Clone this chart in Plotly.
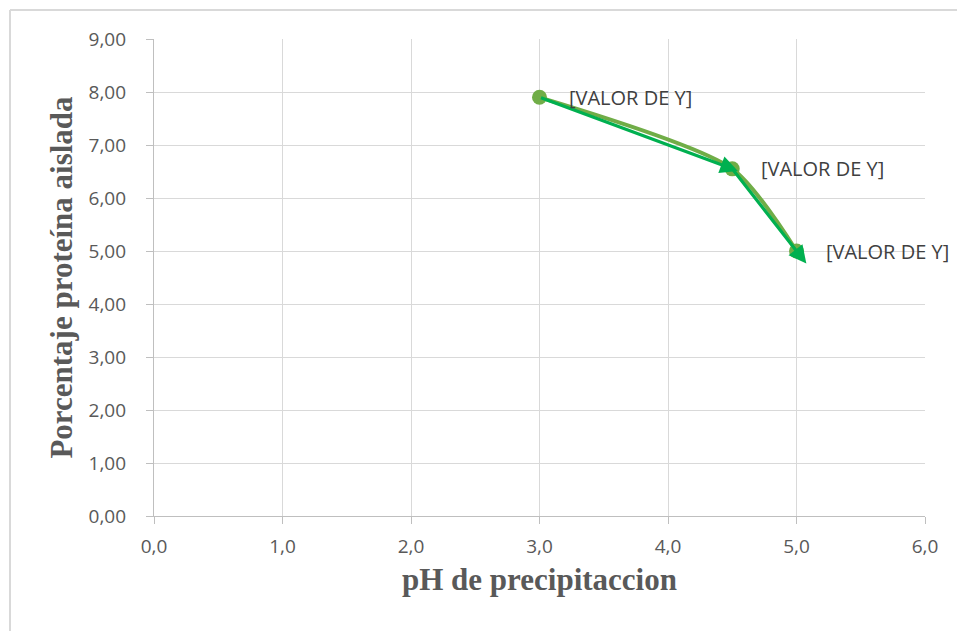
import math
import plotly.graph_objects as go

# pH values and isolated-protein percentage
ph = [3.0, 4.5, 5.0]
porcentaje = [7.90, 6.55, 5.00]
etiquetas = ["[VALOR DE Y]", "[VALOR DE Y]", "[VALOR DE Y]"]

x_ticks = [0, 1, 2, 3, 4, 5, 6]
x_tick_text = ["0,0", "1,0", "2,0", "3,0", "4,0", "5,0", "6,0"]
y_ticks = [0, 1, 2, 3, 4, 5, 6, 7, 8, 9]
y_tick_text = ["0,00", "1,00", "2,00", "3,00", "4,00", "5,00", "6,00", "7,00", "8,00", "9,00"]

OLIVE = "#70AD47"
GREEN = "#00B050"
TICK_FONT = dict(family="Open Sans, Noto Sans, sans-serif", size=19, color="#595959")
TITLE_FONT = dict(family="Liberation Serif, Times New Roman, serif", size=31, color="#595959")

X_RANGE = [0, 6]
Y_RANGE = [0, 9]

# plot-area position in pixels
L, R, T, B = 154, 32, 39, 115
W, H = 957, 631
pw, ph_px = W - L - R, H - T - B

fig = go.Figure()

# smoothed series with circular markers
fig.add_trace(go.Scatter(
    x=ph, y=porcentaje,
    mode="lines+markers",
    line=dict(color=OLIVE, width=4, shape="spline", smoothing=0.7),
    marker=dict(color=OLIVE, size=15, symbol="circle"),
    hoverinfo="x+y",
    showlegend=False,
))

# straight green arrows between consecutive points; the head runs a few
# pixels past the target point
x_per_px = (X_RANGE[1] - X_RANGE[0]) / pw
y_per_px = (Y_RANGE[1] - Y_RANGE[0]) / ph_px
overshoot_px = [6, 16]
for i in range(1, len(ph)):
    x0, y0 = ph[i - 1], porcentaje[i - 1]
    x1, y1 = ph[i], porcentaje[i]
    dxp = (x1 - x0) / x_per_px
    dyp = (y1 - y0) / y_per_px
    seg = math.hypot(dxp, dyp)
    k = overshoot_px[i - 1] / seg
    fig.add_annotation(
        x=x1 + k * (x1 - x0), y=y1 + k * (y1 - y0),
        ax=x0, ay=y0, xref="x", yref="y", axref="x", ayref="y",
        text="", showarrow=True, arrowhead=2, arrowsize=1.1,
        arrowwidth=3.2, arrowcolor=GREEN, standoff=0, startstandoff=0,
    )

# data labels to the right of each point
for xv, yv, txt in zip(ph, porcentaje, etiquetas):
    fig.add_annotation(
        x=xv, y=yv, text=txt, showarrow=False,
        xanchor="left", yanchor="middle", xshift=27, yshift=0,
        font=dict(family="Open Sans, Noto Sans, sans-serif", size=20, color="#404040"),
    )


def px_x(p):
    return (p - L) / pw


def px_y(p):
    return (H - B - p) / ph_px


# outer chart frame
frame = dict(color="#D9D9D9", width=2)
fig.add_shape(type="line", xref="paper", yref="paper",
              x0=px_x(10), x1=px_x(970), y0=px_y(10), y1=px_y(10), line=frame)
fig.add_shape(type="line", xref="paper", yref="paper",
              x0=px_x(10), x1=px_x(10), y0=px_y(10), y1=px_y(650), line=frame)

fig.update_layout(
    width=W, height=H,
    margin=dict(l=L, r=R, t=T, b=B),
    paper_bgcolor="white", plot_bgcolor="white",
    xaxis=dict(
        range=X_RANGE, tickvals=x_ticks, ticktext=x_tick_text,
        showgrid=True, gridcolor="#D9D9D9", gridwidth=1.3,
        showline=True, linecolor="#BFBFBF", linewidth=1.3,
        ticks="outside", ticklen=7, tickcolor="#BFBFBF",
        tickfont=TICK_FONT, zeroline=False, ticklabelstandoff=6,
        title=dict(text="<b>pH de precipitaccion</b>", font=TITLE_FONT, standoff=10),
    ),
    yaxis=dict(
        range=Y_RANGE, tickvals=y_ticks, ticktext=y_tick_text,
        showgrid=True, gridcolor="#D9D9D9", gridwidth=1.3,
        showline=True, linecolor="#BFBFBF", linewidth=1.3,
        ticks="outside", ticklen=7, tickcolor="#BFBFBF",
        tickfont=TICK_FONT, zeroline=False, ticklabelstandoff=16,
        title=dict(text="<b>Porcentaje proteína aislada</b>", font=TITLE_FONT, standoff=6),
    ),
)

fig.write_html("out.html")
